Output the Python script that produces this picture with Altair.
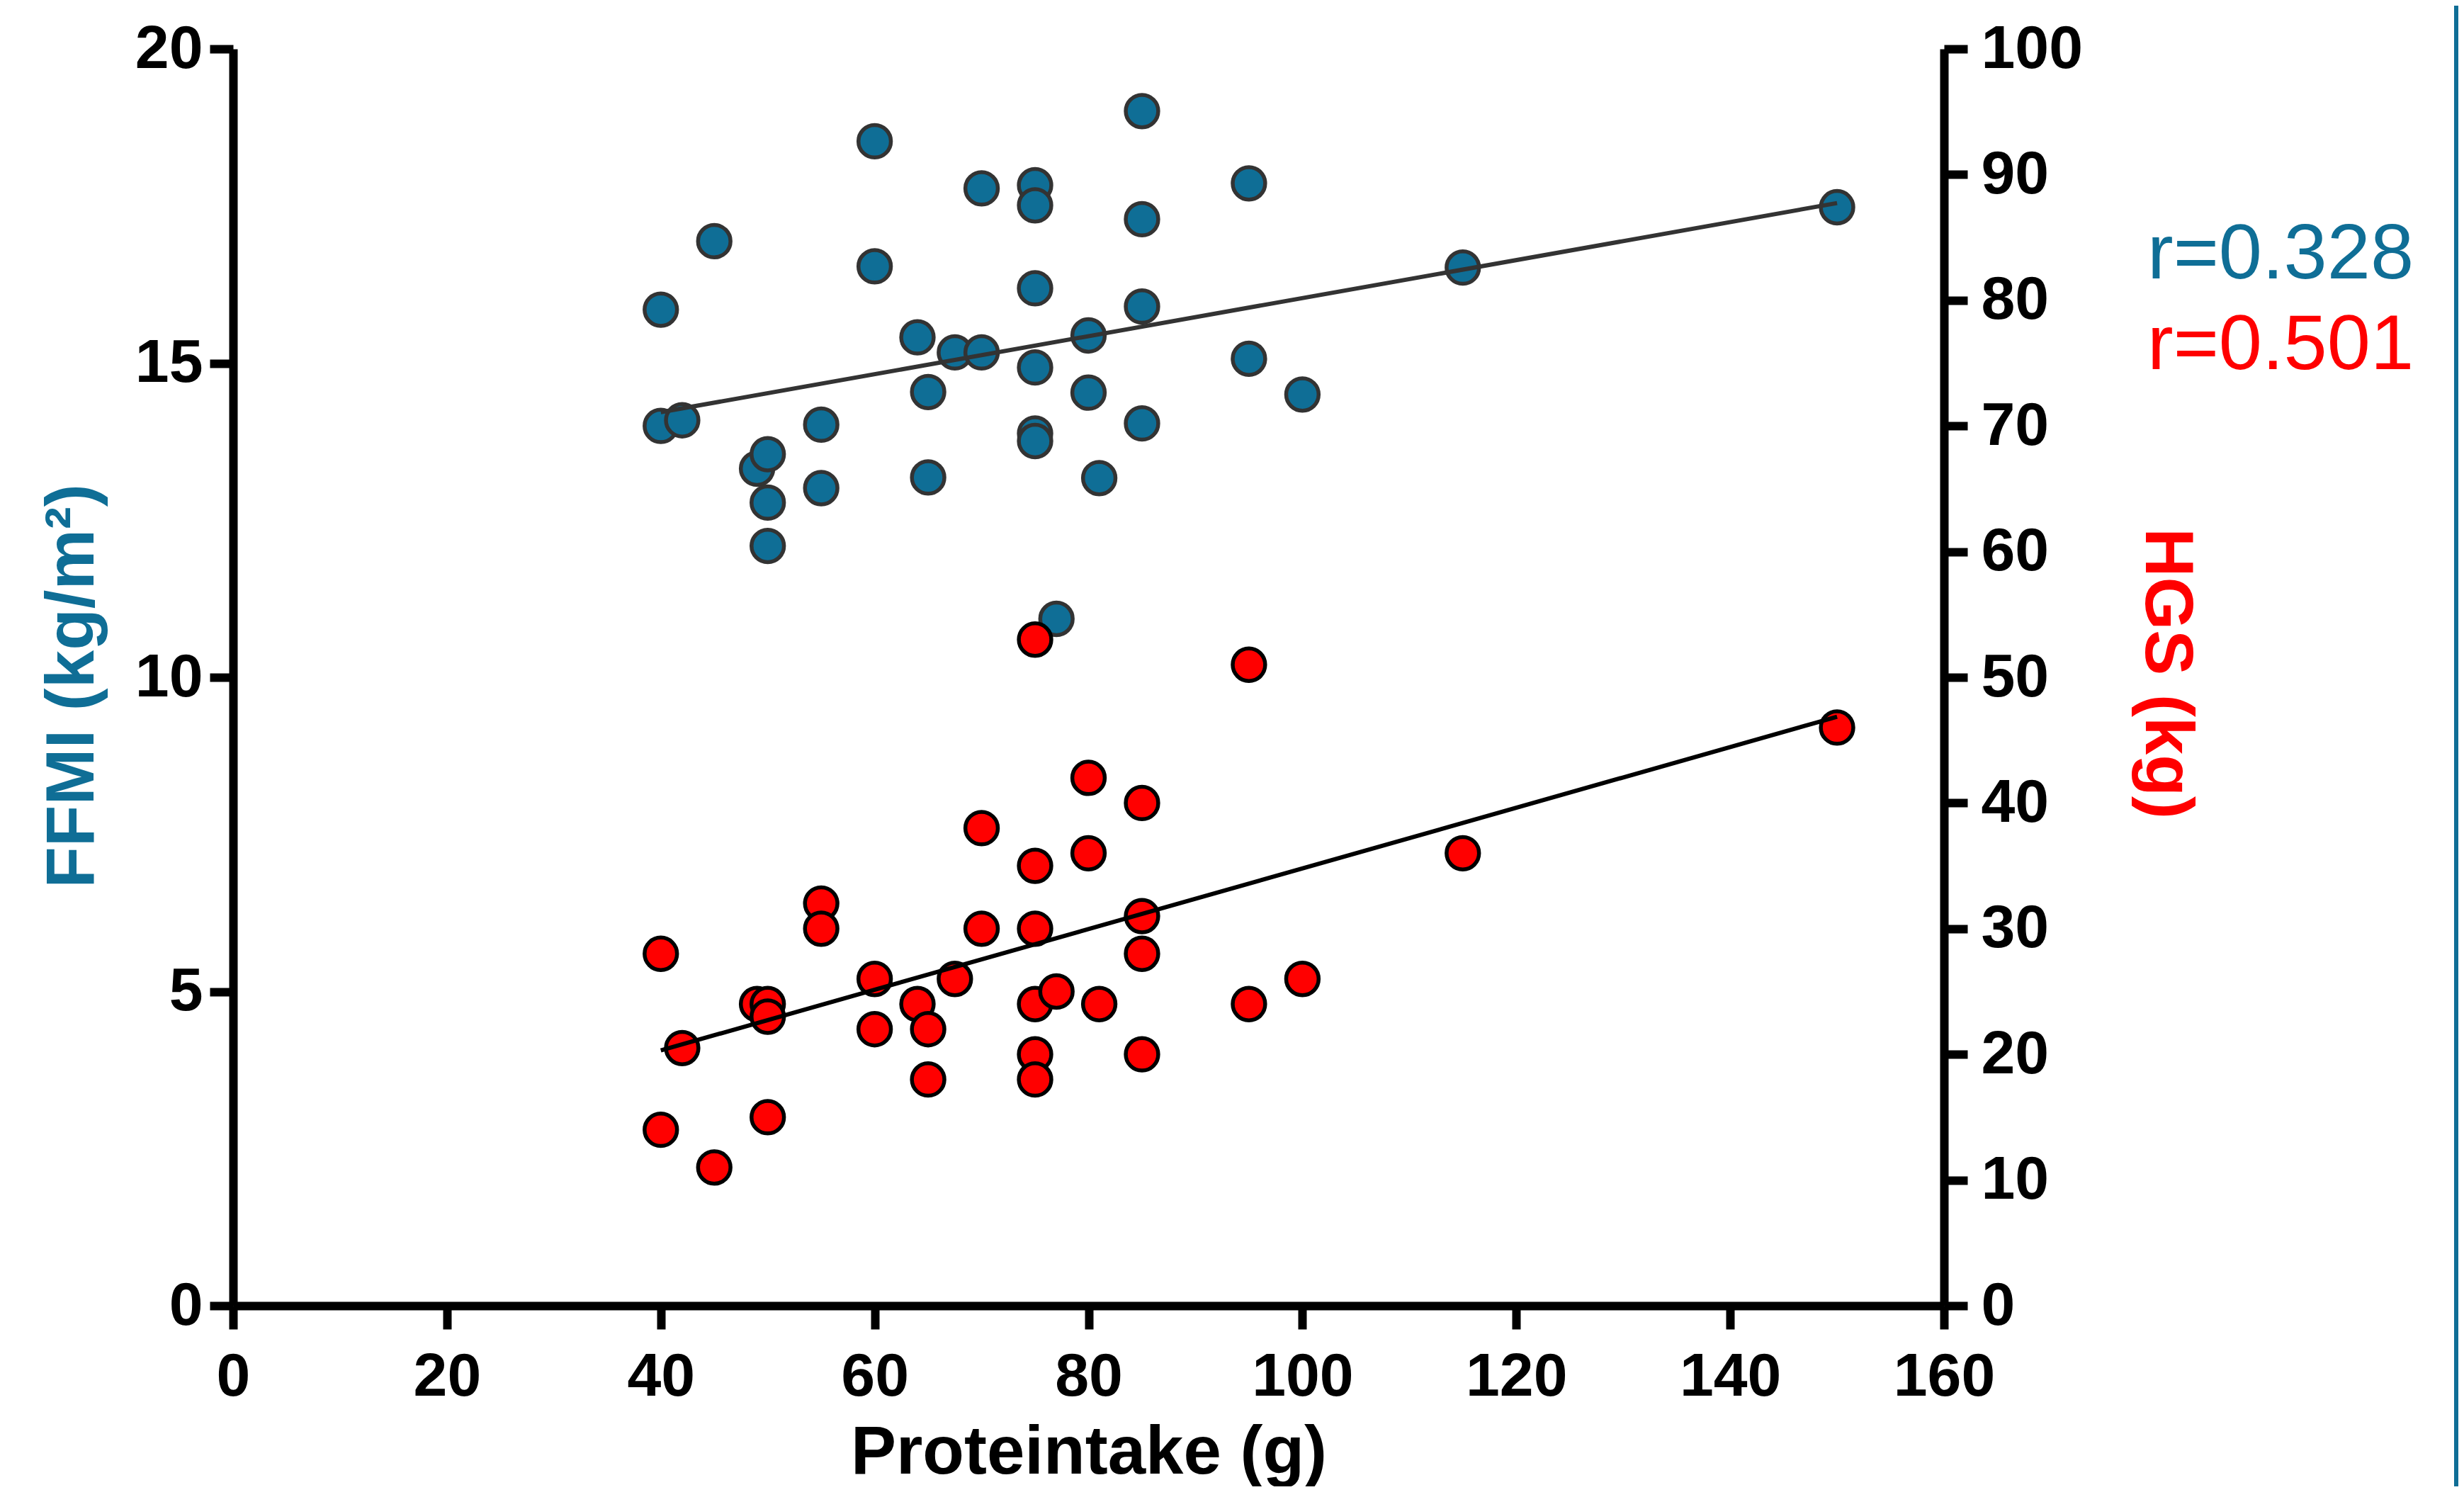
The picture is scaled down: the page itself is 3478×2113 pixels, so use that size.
import altair as alt
import pandas as pd

# ---- data ----
ffmi_protein = [40, 40, 42, 45, 49, 50, 50, 50, 55, 55, 60, 60, 64, 65, 65, 67.5, 70, 70,
                75, 75, 75, 75, 75, 75, 77, 80, 80, 81, 85, 85, 85, 85, 95, 95, 100, 115, 150]
ffmi_values = [15.85, 14.0, 14.09, 16.94, 13.32, 13.55, 12.78, 12.09, 14.02, 13.01, 18.53, 16.54,
               15.41, 14.54, 13.18, 15.17, 15.17, 17.78, 17.83, 17.51, 16.19, 14.93, 13.88, 13.76,
               10.93, 15.44, 14.53, 13.17, 19.01, 17.29, 15.9, 14.04, 17.86, 15.07, 14.5, 16.52, 17.48]

hgs_protein = [40, 40, 42, 45, 49, 50, 50, 50, 55, 55, 60, 60, 64, 65, 65, 67.5, 70, 70,
               75, 75, 75, 75, 75, 75, 77, 80, 80, 81, 85, 85, 85, 85, 95, 95, 100, 115, 150]
hgs_values = [28, 14, 20.5, 11, 24, 24, 23, 15, 32, 30, 26, 22, 24, 22, 18, 26, 38, 30,
              53, 35, 30, 24, 20, 18, 25, 42, 36, 24, 40, 31, 28, 20, 51, 24, 26, 36, 46]

x_ticks = [0, 20, 40, 60, 80, 100, 120, 140, 160]
left_ticks = [0, 5, 10, 15, 20]
right_ticks = [0, 10, 20, 30, 40, 50, 60, 70, 80, 90, 100]
r_labels = ["r=0.328", "r=0.501"]

BLUE = "#0F6E96"
RED = "#FF0000"
FONT = "Liberation Sans"

df_b = pd.DataFrame({"protein": ffmi_protein, "ffmi": ffmi_values})
df_r = pd.DataFrame({"protein": hgs_protein, "hgs": hgs_values})
one = pd.DataFrame({"a": [0]})

W, H = 2415, 1774

common_axis = dict(
    domainColor="black", domainWidth=12, tickColor="black", tickWidth=12, tickSize=33,
    labelFont=FONT, labelFontSize=86, labelFontWeight="bold", labelColor="black",
    titleFont=FONT, titleFontSize=96, titleFontWeight="bold", grid=False,
    labelFlush=False, labelOverlap=False,
)

x_axis = alt.Axis(values=x_ticks, title="Proteintake (g)", titleColor="black", orient="bottom",
                  labelPadding=25, titleY=236, titleBaseline="alphabetic", **common_axis)
x_scale = alt.Scale(domain=[0, 160], nice=False)

left_axis = alt.Axis(values=left_ticks, title="FFMI (kg/m²)", titleColor=BLUE, orient="left",
                     labelPadding=10, titleX=-198, titleY=899, titleAngle=270,
                     titleBaseline="alphabetic", titleAlign="center", **common_axis)
right_axis = alt.Axis(values=right_ticks, title="HGS (kg)", titleColor=RED, orient="right",
                      labelPadding=19, titleX=284, titleY=881, titleAngle=90,
                      titleBaseline="alphabetic", titleAlign="center", **common_axis)

yl_scale = alt.Scale(domain=[0, 20], nice=False)
yr_scale = alt.Scale(domain=[0, 100], nice=False)

PT_SIZE = 2100
PT_STROKE = 5.5
LINE_W = 6

blue_pts = alt.Chart(df_b).mark_circle(
    size=PT_SIZE, fill=BLUE, stroke="#333333", strokeWidth=PT_STROKE, opacity=1
).encode(
    x=alt.X("protein:Q", scale=x_scale, axis=x_axis),
    y=alt.Y("ffmi:Q", scale=yl_scale, axis=left_axis),
)
blue_line = alt.Chart(df_b).transform_regression("protein", "ffmi").mark_line(
    color="#333333", strokeWidth=LINE_W
).encode(
    x=alt.X("protein:Q", scale=x_scale, axis=x_axis),
    y=alt.Y("ffmi:Q", scale=yl_scale, axis=left_axis),
)

red_pts = alt.Chart(df_r).mark_circle(
    size=PT_SIZE, fill=RED, stroke="black", strokeWidth=PT_STROKE, opacity=1
).encode(
    x=alt.X("protein:Q", scale=x_scale, axis=x_axis),
    y=alt.Y("hgs:Q", scale=yr_scale, axis=right_axis),
)
red_line = alt.Chart(df_r).transform_regression("protein", "hgs").mark_line(
    color="black", strokeWidth=LINE_W
).encode(
    x=alt.X("protein:Q", scale=x_scale, axis=x_axis),
    y=alt.Y("hgs:Q", scale=yr_scale, axis=right_axis),
)

blue_layer = alt.layer(blue_pts, blue_line)
red_layer = alt.layer(red_pts, red_line)

t1 = alt.Chart(one).mark_text(
    font=FONT, fontSize=110, color=BLUE, align="left", baseline="alphabetic"
).encode(x=alt.value(2702), y=alt.value(324), text=alt.value(r_labels[0]))
t2 = alt.Chart(one).mark_text(
    font=FONT, fontSize=110, color=RED, align="left", baseline="alphabetic"
).encode(x=alt.value(2702), y=alt.value(452), text=alt.value(r_labels[1]))

edge = alt.Chart(one).mark_rule(color=BLUE, strokeWidth=12).encode(
    x=alt.value(3141), y=alt.value(-100), y2=alt.value(2300)
)

chart = alt.layer(blue_layer, red_layer, t1, t2, edge).resolve_scale(
    y="independent"
).properties(
    width=W, height=H,
    autosize=alt.AutoSizeParams(type="none"),
    padding={"left": 321, "top": 61, "right": 726, "bottom": 255},
).configure_view(stroke=None)

chart.save("out.html", embed_options={"renderer": "svg", "actions": False})
